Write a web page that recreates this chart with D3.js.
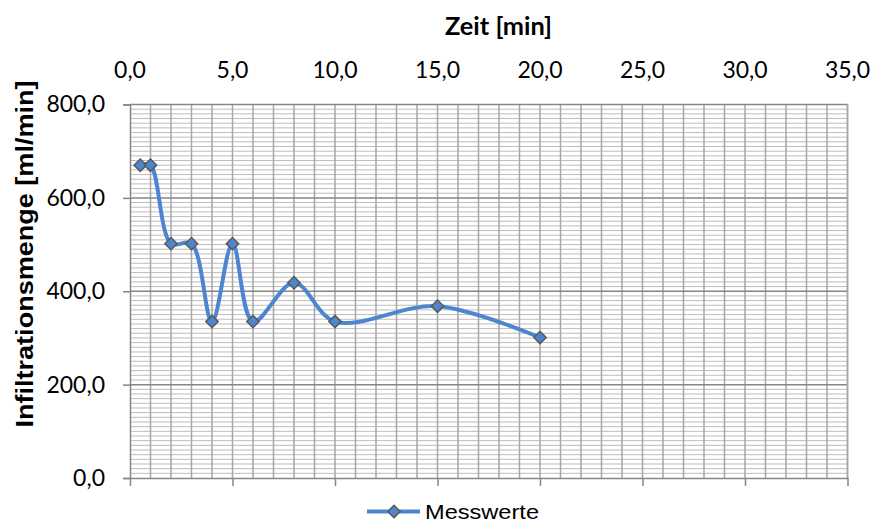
<!DOCTYPE html>
<html>
<head>
<meta charset="utf-8">
<script src="https://cdn.jsdelivr.net/npm/d3@7"></script>
<style>
  body { margin: 0; background: #fff; }
  svg { display: block; }
</style>
</head>
<body>
<div id="chart"></div>
<script>
// measured values
const zeit = [0.5, 1, 2, 3, 4, 5, 6, 8, 10, 15, 20];
const menge = [670, 670, 502, 502, 335, 502, 335, 418, 335, 368, 301];
const xTicks = [0, 5, 10, 15, 20, 25, 30, 35];
const yTicks = [0, 200, 400, 600, 800];
const seriesName = "Messwerte";

const width = 873, height = 522;
const plot = {left: 130, right: 847.5, top: 104.5, bottom: 478};

const svg = d3.select("#chart").append("svg")
    .attr("width", width)
    .attr("height", height);

const x = d3.scaleLinear().domain([0, 35]).range([plot.left, plot.right]);
const y = d3.scaleLinear().domain([0, 800]).range([plot.bottom, plot.top]);

const de = d3.formatLocale({decimal: ",", thousands: ".", grouping: [3], currency: ["", "€"]});
const fmt = de.format(".1f");

const lineColor = "#4d86cf";

// minor gridlines (horizontal every 10, vertical every 1)
const grid = svg.append("g");
grid.selectAll(".hminor")
    .data(d3.range(10, 800, 10).filter(v => v % 200 !== 0))
    .join("line")
    .attr("x1", plot.left).attr("x2", plot.right)
    .attr("y1", d => y(d)).attr("y2", d => y(d))
    .attr("stroke", "#bdbdbd")
    .attr("stroke-width", 1);

grid.selectAll(".vminor")
    .data(d3.range(1, 36, 1))
    .join("line")
    .attr("x1", d => x(d)).attr("x2", d => x(d))
    .attr("y1", plot.top).attr("y2", plot.bottom)
    .attr("stroke", "#a6a6a6")
    .attr("stroke-width", 1.5);

// major horizontal gridlines
grid.selectAll(".hmajor")
    .data(yTicks.filter(v => v > 0))
    .join("line")
    .attr("x1", plot.left).attr("x2", plot.right)
    .attr("y1", d => y(d)).attr("y2", d => y(d))
    .attr("stroke", "#868686")
    .attr("stroke-width", 1.5);

// y axis (left)
const yAxis = svg.append("g")
    .attr("transform", `translate(${plot.left},0)`)
    .call(d3.axisLeft(y).tickValues(yTicks).tickFormat(fmt).tickSize(7).tickPadding(18));
yAxis.select(".domain").attr("stroke", "#868686").attr("stroke-width", 1.5);
yAxis.selectAll(".tick line").attr("stroke", "#868686").attr("stroke-width", 1.5);
yAxis.selectAll(".tick text")
    .attr("font-family", "Lato, sans-serif")
    .attr("font-size", 23)
    .attr("fill", "#000");

// x axis (bottom, ticks only)
const xAxis = svg.append("g")
    .attr("transform", `translate(0,${plot.bottom})`)
    .call(d3.axisBottom(x).tickValues(xTicks).tickFormat("").tickSize(8).tickSizeOuter(0));
xAxis.select(".domain").attr("stroke", "#868686").attr("stroke-width", 1.5);
xAxis.selectAll(".tick line").attr("stroke", "#868686").attr("stroke-width", 1.5);

// top labels for x
svg.append("g").selectAll("text")
    .data(xTicks)
    .join("text")
    .attr("x", d => x(d))
    .attr("y", 78)
    .attr("text-anchor", "middle")
    .attr("font-family", "Lato, sans-serif")
    .attr("font-size", 23)
    .text(d => fmt(d));

// right border
svg.append("line")
    .attr("x1", plot.right).attr("x2", plot.right)
    .attr("y1", plot.top).attr("y2", plot.bottom)
    .attr("stroke", "#a6a6a6").attr("stroke-width", 1.5);

// titles
svg.append("text")
    .attr("x", 498.5)
    .attr("y", 35)
    .attr("text-anchor", "middle")
    .attr("font-family", "Lato, sans-serif")
    .attr("font-weight", "bold")
    .attr("font-size", 25)
    .attr("textLength", 107)
    .attr("lengthAdjust", "spacingAndGlyphs")
    .text("Zeit [min]");

svg.append("text")
    .attr("transform", "translate(33,254) rotate(-90)")
    .attr("text-anchor", "middle")
    .attr("font-family", "'Liberation Sans', Arial, sans-serif")
    .attr("font-weight", "bold")
    .attr("font-size", 23)
    .attr("textLength", 347)
    .attr("lengthAdjust", "spacingAndGlyphs")
    .text("Infiltrationsmenge [ml/min]");

// series
const pts = zeit.map((t, i) => [t, menge[i]]);

const line = d3.line()
    .x(d => x(d[0]))
    .y(d => y(d[1]))
    .curve(d3.curveCatmullRom.alpha(0.5));

svg.append("path")
    .datum(pts)
    .attr("d", line)
    .attr("fill", "none")
    .attr("stroke", lineColor)
    .attr("stroke-width", 4)
    .attr("stroke-linejoin", "round");

const diamond = d3.symbol().type(d3.symbolSquare).size(76);

svg.append("g").selectAll("path")
    .data(pts)
    .join("path")
    .attr("d", diamond)
    .attr("transform", d => `translate(${x(d[0])},${y(d[1])}) rotate(45)`)
    .attr("fill", lineColor)
    .attr("stroke", "#595959")
    .attr("stroke-width", 1.5);

// legend
const lg = svg.append("g");
lg.append("line")
    .attr("x1", 367).attr("x2", 420)
    .attr("y1", 511.5).attr("y2", 511.5)
    .attr("stroke", lineColor)
    .attr("stroke-width", 4);
lg.append("path")
    .attr("d", diamond)
    .attr("transform", "translate(394,511.5) rotate(45)")
    .attr("fill", lineColor)
    .attr("stroke", "#595959")
    .attr("stroke-width", 1.5);
lg.append("text")
    .attr("x", 425)
    .attr("y", 518.5)
    .attr("font-family", "'Liberation Sans', Arial, sans-serif")
    .attr("font-size", 21)
    .attr("textLength", 114)
    .attr("lengthAdjust", "spacingAndGlyphs")
    .text(seriesName);
</script>
</body>
</html>
